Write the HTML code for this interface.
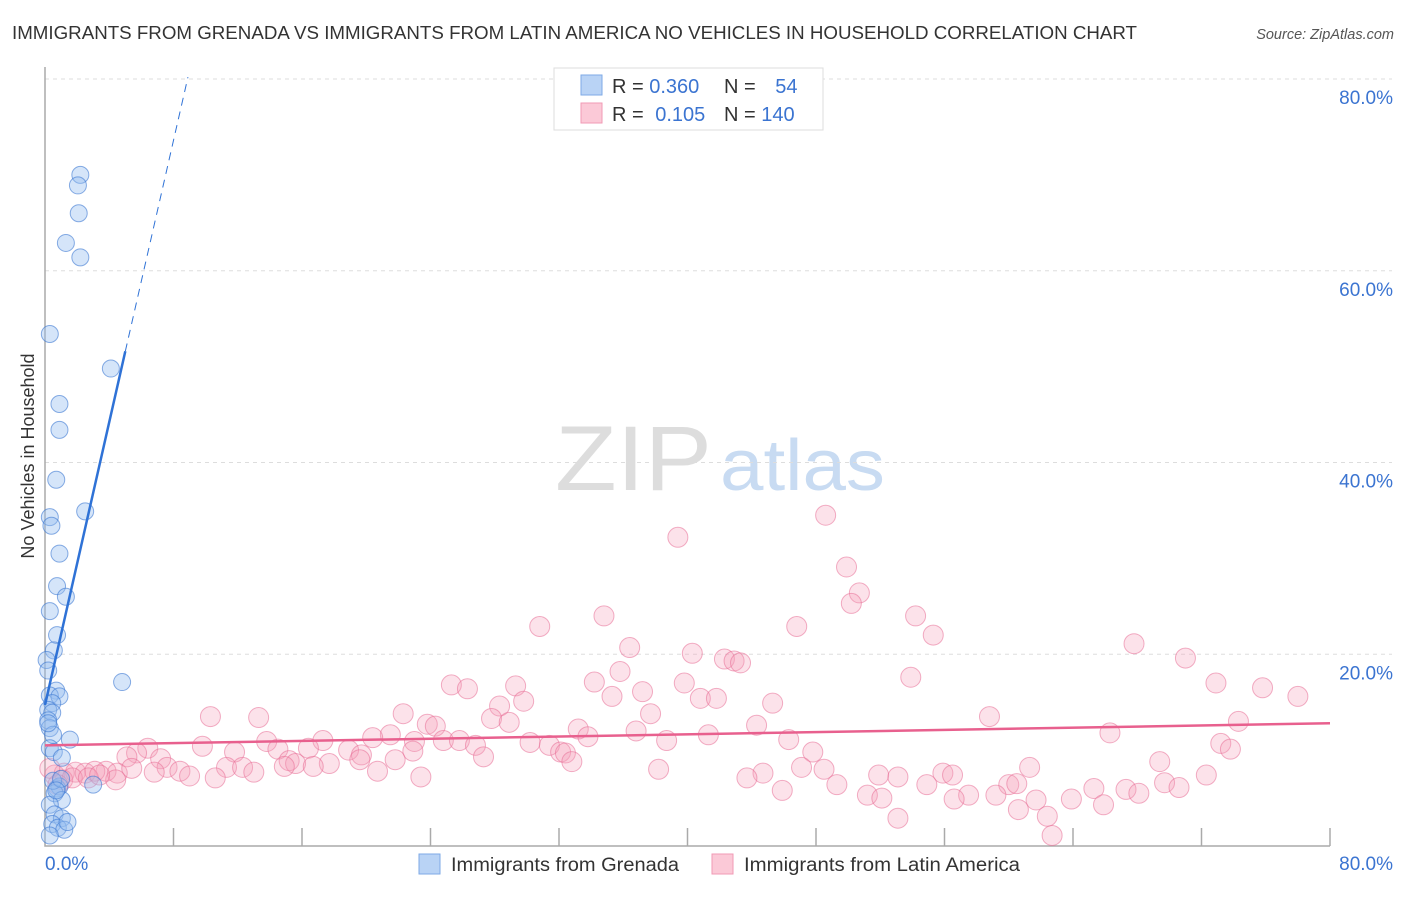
<!DOCTYPE html>
<html><head><meta charset="utf-8"><style>
body{margin:0;background:#fff;font-family:"Liberation Sans",sans-serif}
svg text{font-family:"Liberation Sans",sans-serif}
</style></head><body>
<svg id="chart" width="1406" height="892" xmlns="http://www.w3.org/2000/svg">
<text x="12" y="39" font-size="18" fill="#333" textLength="1125" lengthAdjust="spacingAndGlyphs">IMMIGRANTS FROM GRENADA VS IMMIGRANTS FROM LATIN AMERICA NO VEHICLES IN HOUSEHOLD CORRELATION CHART</text>
<text x="1394" y="39" font-size="14.5" fill="#555" font-style="italic" text-anchor="end">Source: ZipAtlas.com</text>
<g>
<text x="555" y="490" font-size="92" fill="#ddd" font-family="Liberation Serif" textLength="157" lengthAdjust="spacingAndGlyphs">ZIP</text>
<text x="720" y="490" font-size="72" fill="#c8dbf2" textLength="165" lengthAdjust="spacingAndGlyphs">atlas</text>
</g>
<g id="grid"></g>
<g id="axes"></g>
<g id="marks"></g>
<text transform="translate(34,456) rotate(-90)" font-size="18" fill="#333" text-anchor="middle">No Vehicles in Household</text>
<g>
<rect x="554" y="68" width="269" height="62" fill="#fff" stroke="#ddd"/>
<rect x="581" y="75" width="21" height="20" fill="#b9d3f5" stroke="#7ea9e6"/>
<rect x="581" y="103" width="21" height="20" fill="#fbc9d7" stroke="#f09ab4"/>
<text x="612" y="93" font-size="20" fill="#333">R = <tspan fill="#3b74d1">0.360</tspan></text>
<text x="724" y="93" font-size="20" fill="#333">N = <tspan fill="#3b74d1" dx="14">54</tspan></text>
<text x="612" y="121" font-size="20" fill="#333">R = <tspan fill="#3b74d1" dx="6">0.105</tspan></text>
<text x="724" y="121" font-size="20" fill="#333">N = <tspan fill="#3b74d1">140</tspan></text>
</g>
<g>
<rect x="419" y="854" width="21" height="20" fill="#b9d3f5" stroke="#7ea9e6"/>
<text x="451" y="871" font-size="19" fill="#333" textLength="228" lengthAdjust="spacingAndGlyphs">Immigrants from Grenada</text>
<rect x="712" y="854" width="21" height="20" fill="#fbc9d7" stroke="#f09ab4"/>
<text x="744" y="871" font-size="19" fill="#333" textLength="276" lengthAdjust="spacingAndGlyphs">Immigrants from Latin America</text>
</g>
</svg>
<script>
const yTicks=[20,40,60,80];
const yTickLabels=["20.0%","40.0%","60.0%","80.0%"];
const xTicks=[8,16,24,32,40,48,56,64,72,80];
const blueX=[2.2,2.05,2.1,1.3,2.2,0.3,4.1,0.9,0.9,0.7,2.5,0.3,0.4,0.9,0.75,1.3,0.3,0.75,0.55,0.1,0.2,4.8,0.7,0.3,0.9,0.45,0.2,0.45,0.2,0.3,0.5,1.55,0.3,0.55,1.05,3.0,0.75,0.9,0.6,1.05,0.3,0.6,1.05,0.45,0.8,1.2,0.3,0.5,1.0,0.2,0.7,1.4];
const blueY=[70.0,68.9,66.0,62.9,61.4,53.4,49.8,46.1,43.4,38.2,34.9,34.3,33.4,30.5,27.1,26.0,24.5,22.0,20.4,19.4,18.3,17.1,16.2,15.7,15.6,14.9,14.2,13.9,13.1,12.3,11.6,11.1,10.2,9.8,9.2,6.4,6.0,6.2,5.5,4.8,4.3,3.3,2.9,2.3,1.9,1.7,1.1,6.8,7.0,12.8,5.8,2.5];
const pinkX=[39.4,48.6,49.9,50.7,50.2,34.8,54.2,30.8,46.8,55.3,67.8,36.4,40.3,71.0,42.3,42.9,43.3,35.8,53.9,25.3,29.3,34.2,39.8,72.9,26.3,37.2,35.3,75.8,78.0,40.8,41.8,29.8,28.3,45.3,10.3,13.3,22.3,37.7,58.8,27.8,28.9,23.8,24.3,44.3,74.3,33.2,36.8,21.5,33.8,41.3,66.3,20.4,24.8,25.8,17.3,13.8,46.3,38.7,23.0,30.2,26.8,16.4,6.4,9.8,31.4,73.2,5.7,11.8,14.5,18.9,19.7,22.9,32.1,32.4,47.8,73.8,5.1,7.2,15.2,15.6,27.3,21.8,17.7,32.8,69.4,7.6,11.3,12.3,14.9,16.7,19.6,47.1,48.5,61.3,3.8,4.5,6.8,8.4,9.0,13.0,20.7,38.2,44.7,51.9,53.1,55.9,56.5,72.3,10.6,23.4,43.7,49.3,54.9,60.0,60.5,69.7,70.6,45.9,65.3,67.3,51.2,57.5,59.2,68.1,52.1,56.6,61.7,63.9,65.9,60.6,62.4,53.1,62.7,0.6,1.2,1.9,2.5,3.1,1.1,1.7,2.7,4.4,3.4,0.3,0.8,5.4];
const pinkY=[32.2,34.5,29.1,26.4,25.3,24.0,24.0,22.9,22.9,22.0,21.1,20.7,20.1,19.6,19.5,19.3,19.1,18.2,17.6,16.8,16.7,17.1,17.0,17.0,16.4,16.1,15.6,16.5,15.6,15.4,15.4,15.1,14.6,14.9,13.5,13.4,13.8,13.8,13.5,13.3,12.9,12.7,12.5,12.6,13.0,12.2,12.0,11.6,11.4,11.6,11.8,11.3,11.0,11.0,11.0,10.9,11.1,11.0,10.9,10.8,10.5,10.2,10.2,10.4,10.5,10.7,9.7,9.8,10.1,10.0,9.5,9.9,9.8,9.7,9.8,10.1,9.3,9.1,8.9,8.6,9.3,9.0,8.6,8.8,8.8,8.2,8.2,8.2,8.3,8.3,9.0,8.2,8.0,8.2,7.8,7.6,7.7,7.8,7.3,7.7,7.8,8.0,7.6,7.4,7.2,7.6,7.4,7.4,7.1,7.2,7.1,6.4,6.4,6.4,6.5,6.6,6.1,5.8,6.0,5.9,5.3,5.3,5.3,5.5,5.0,4.9,4.8,4.9,4.3,3.8,3.1,2.9,1.1,7.4,7.6,7.7,7.6,7.8,6.9,7.1,7.1,6.9,7.4,8.1,6.4,8.1];
const blueTrend=[[0,14.7],[5,51.6],[8.9,80.2]];
const pinkTrend=[[0,10.5],[80,12.8]];
const X0=45,X1=1330,Y0=846,Y80=79;
const sx=v=>X0+(X1-X0)*v/80, sy=v=>Y0-(Y0-Y80)*v/80;
const NS="http://www.w3.org/2000/svg";
function mk(tag,attrs,parent){const e=document.createElementNS(NS,tag);for(const k in attrs)e.setAttribute(k,attrs[k]);parent.appendChild(e);return e;}
const grid=document.getElementById('grid'),axes=document.getElementById('axes'),marks=document.getElementById('marks');
yTicks.forEach((t,i)=>{
 const g=mk('line',{x1:X0,x2:1392,y1:sy(t),y2:sy(t),stroke:'#ddd','stroke-dasharray':'4,4'},grid);
 
 
 const l=mk('text',{x:1393,y:sy(t)+25,'font-size':19,fill:'#3b74d1','text-anchor':'end'},axes);
 l.textContent=yTickLabels[i];
 
 
});
const ax=mk('path',{d:`M${X0},67V${Y0}H${X1}`,stroke:'#aaa',fill:'none','stroke-width':1.5},axes);


xTicks.forEach(t=>{
 const k=mk('line',{x1:sx(t),x2:sx(t),y1:Y0,y2:Y0-18,stroke:'#aaa','stroke-width':1.5},axes);
 
 
});
const xl0=mk('text',{x:45,y:870,'font-size':19,fill:'#3b74d1'},axes);xl0.textContent='0.0%';


const xl1=mk('text',{x:1393,y:870,'font-size':19,fill:'#3b74d1','text-anchor':'end'},axes);xl1.textContent='80.0%';


pinkX.forEach((v,i)=>{
 const c=mk('circle',{cx:sx(v),cy:sy(pinkY[i]),r:10,fill:'rgba(246,160,185,0.3)',stroke:'rgba(232,110,150,0.55)','stroke-width':1},marks);
 
 
});
blueX.forEach((v,i)=>{
 const c=mk('circle',{cx:sx(v),cy:sy(blueY[i]),r:8.5,fill:'rgba(150,190,240,0.4)',stroke:'rgba(60,120,210,0.6)','stroke-width':1},marks);
 
 
});
const bt1=mk('line',{x1:sx(blueTrend[0][0]),y1:sy(blueTrend[0][1]),x2:sx(blueTrend[1][0]),y2:sy(blueTrend[1][1]),stroke:'#2f72d6','stroke-width':2.5},marks);


const bt2=mk('line',{x1:sx(blueTrend[1][0]),y1:sy(blueTrend[1][1]),x2:sx(blueTrend[2][0]),y2:sy(blueTrend[2][1]),stroke:'#2f72d6','stroke-width':1,'stroke-dasharray':'8,6'},marks);


const pt=mk('line',{x1:sx(pinkTrend[0][0]),y1:sy(pinkTrend[0][1]),x2:sx(pinkTrend[1][0]),y2:sy(pinkTrend[1][1]),stroke:'#e8608e','stroke-width':2.5},marks);


</script>
</body></html>
